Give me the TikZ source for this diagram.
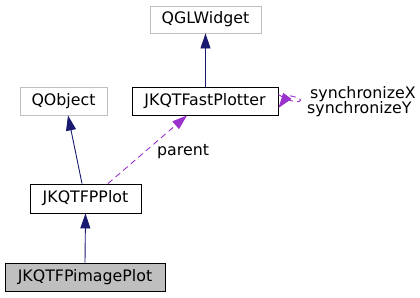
\documentclass[tikz,border=0pt]{standalone}
\usepackage{fontspec}
\setmainfont{DejaVu Sans}
\usetikzlibrary{arrows.meta}
\definecolor{edgeblue}{HTML}{191970}
\definecolor{edgepurple}{HTML}{9A32CD}
\definecolor{boxgray}{HTML}{BFBFBF}
\begin{document}
\begin{tikzpicture}[x=1pt,y=-1pt,
  cls/.style={draw=black,line width=0.9pt,fill=white,inner sep=0pt,font=\fontsize{15.8}{18}\selectfont},
  ext/.style={cls,draw=boxgray},
  cur/.style={cls,fill=boxgray},
  inherit/.style={edgeblue,line width=0.9pt,-{Stealth[length=15pt,width=10pt,inset=0pt]}},
  usage/.style={edgepurple,line width=0.9pt,dash pattern=on 6pt off 4pt,-{Stealth[length=15pt,width=10pt,inset=0pt]}},
  lbl/.style={font=\fontsize{15.8}{18}\selectfont,inner sep=0pt}]
\useasboundingbox (0,0) rectangle (420,297);
% classes
\node[ext,minimum width=111pt,minimum height=27pt] (qgl) at (205.5,19.5) {QGLWidget};
\node[ext,minimum width=87pt,minimum height=28pt] (qobj) at (63.5,101) {QObject};
\node[cls,minimum width=146pt,minimum height=28pt] (fast) at (205,101) {JKQTFastPlotter};
\node[cls,minimum width=111pt,minimum height=29pt] (fpp) at (85.5,198.5) {JKQTFPPlot};
\node[cur,minimum width=160pt,minimum height=28pt] (img) at (85,277) {JKQTFPimagePlot};
% inheritance
\draw[inherit] (fast.north -| qgl.south) -- (qgl.south);
\draw[inherit] (img.north) -- (fpp.south);
\draw[inherit] ([xshift=-3.5pt]fpp.north) -- ([xshift=4.5pt]qobj.south);
% usage
\draw[usage] ([xshift=22.5pt]fpp.north) -- ([xshift=-18pt]fast.south);
\node[lbl,anchor=base west] (par) at (157,155) {parent};
% self reference on the fast plotter
\draw[usage] ([yshift=6.5pt]fast.east) .. controls (296,106) and (304,101) .. (299,98.5)
  .. controls (295,96.5) and (288,95) .. ([yshift=-7pt]fast.east);
\node[lbl,anchor=base west] (sx) at (310,98) {synchronizeX};
\node[lbl,anchor=base west] (sy) at (307,113.5) {synchronizeY};
\end{tikzpicture}
\end{document}
